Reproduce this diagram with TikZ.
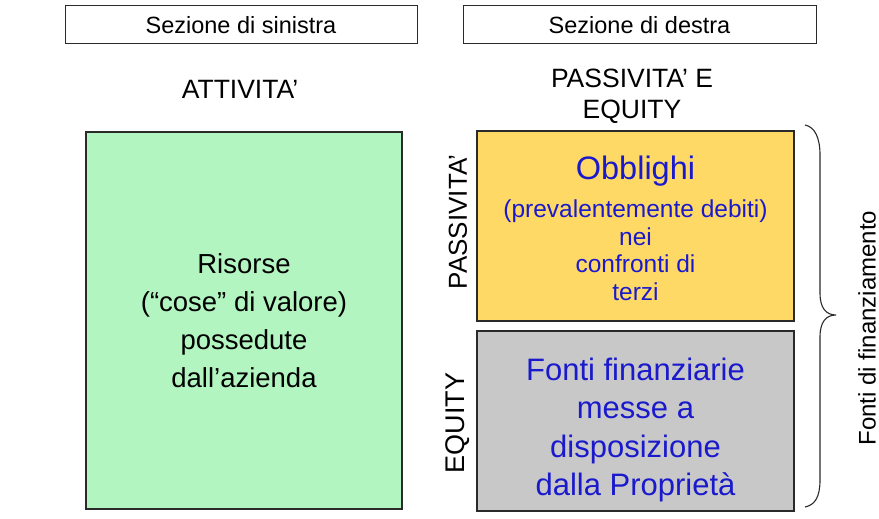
\documentclass[tikz,border=0pt]{standalone}
\usepackage{fontspec}
\setmainfont{Liberation Sans}
\definecolor{boxgreen}{HTML}{B3F5C0}
\definecolor{boxorange}{HTML}{FFD966}
\definecolor{boxgray}{HTML}{C8C8C8}
\definecolor{txtblue}{HTML}{1A1ACC}
\definecolor{edge}{HTML}{2A2A2A}
\tikzset{
  secbox/.style={draw=edge, line width=1pt, fill=white, minimum height=38pt, inner sep=0pt, font=\fontsize{23.5}{27}\selectfont},
  bigbox/.style={draw=edge, line width=1.2pt, inner sep=0pt, align=center},
  heading/.style={inner sep=0pt, align=center, font=\fontsize{26.5}{31}\selectfont},
  sidelabel/.style={inner sep=0pt, rotate=90},
  bluetxt/.style={inner sep=0pt, align=center, text=txtblue},
}
\begin{document}
\begin{tikzpicture}[x=1pt,y=1pt]
\useasboundingbox (0,0) rectangle (879,-519);
% section headers
\node[secbox, minimum width=352pt] (secL) at (241,-25) {Sezione di sinistra};
\node[secbox, minimum width=353pt] (secR) at (639.5,-25) {Sezione di destra};
% headings
\node[heading] (attiv) at (240,-89) {ATTIVITA’};
\node[heading] (passeq) at (632,-96) {PASSIVITA’ E\\EQUITY};
% green box
\node[bigbox, fill=boxgreen, minimum width=316pt, minimum height=377pt,
      font=\fontsize{27.5}{38}\selectfont] (risorse) at (244,-320.5)
  {Risorse\\(“cose” di valore)\\possedute\\dall’azienda};
% orange box
\node[bigbox, fill=boxorange, minimum width=317pt, minimum height=190pt] (obbl) at (635.5,-226) {};
\node[bluetxt, font=\fontsize{32.5}{38}\selectfont] (obtitle) at (635.5,-171) {Obblighi};
\node[bluetxt, font=\fontsize{24.5}{27.5}\selectfont] (obtext) at (635.5,-250)
  {(prevalentemente debiti)\\nei\\confronti di\\terzi};
% gray box
\node[bigbox, fill=boxgray, minimum width=317pt, minimum height=180pt] (equitybox) at (635.5,-421) {};
\node[bluetxt, font=\fontsize{31}{38.5}\selectfont] (eqtext) at (635.5,-430)
  {Fonti finanziarie\\messe a\\disposizione\\dalla Proprietà};
% side labels
\node[sidelabel, font=\fontsize{26}{30}\selectfont] (lpass) at (458,-222) {PASSIVITA’};
\node[sidelabel, font=\fontsize{27}{30}\selectfont] (leq) at (458,-423) {EQUITY};
\node[sidelabel, font=\fontsize{24}{30}\selectfont] (lfonti) at (867,-328) {Fonti di finanziamento};
% brace
\draw[line width=1.1pt, edge]
  (805,-125) .. controls (815,-127) and (820,-138) .. (820,-155)
  -- (820,-293) .. controls (820,-308) and (826,-315) .. (836,-315)
  .. controls (826,-315) and (820,-322) .. (820,-337)
  -- (820,-480) .. controls (820,-497) and (815,-505) .. (805,-507);
\end{tikzpicture}
\end{document}
